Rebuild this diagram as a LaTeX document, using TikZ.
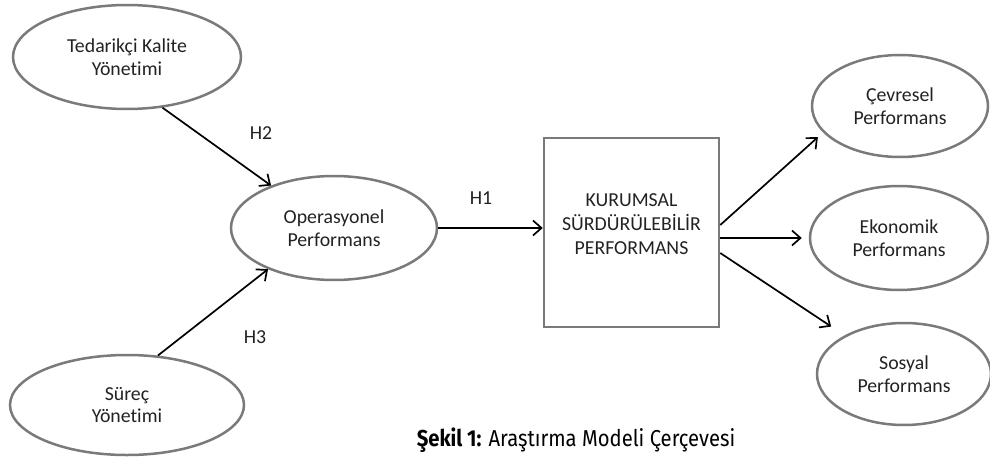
\documentclass[tikz,border=0pt]{standalone}
\usepackage{fontspec}
\setmainfont{Carlito}[Ligatures=NoCommon]
\newfontfamily\capfont{Fira Sans}[FakeStretch=0.88]
\usetikzlibrary{shapes.geometric,arrows.meta}
\definecolor{ellgray}{HTML}{7A7A7A}
\definecolor{txt}{HTML}{222222}
\begin{document}
\begin{tikzpicture}[x=1pt,y=-1pt,
  latent/.style={ellipse,draw=ellgray,line width=2.5pt,inner sep=0pt,
    align=center,text=txt,font=\fontsize{19.8}{22.5}\selectfont},
  construct/.style={rectangle,draw=ellgray,line width=2.5pt,inner sep=0pt},
  boxtext/.style={align=center,text=txt,font=\fontsize{19.8}{24}\selectfont},
  hyp/.style={text=txt,font=\fontsize{19.8}{22}\selectfont},
  arr/.style={-{Straight Barb[length=8.5pt,width=15pt,line width=1.7pt]},line width=1.7pt,black}]
\useasboundingbox (0,0) rectangle (990,460);

% latent constructs
\node[latent,minimum width=228pt,minimum height=104pt] (tk) at (127,57) {Tedarikçi Kalite\\Yönetimi};
\node[latent,minimum width=206pt,minimum height=104pt] (op) at (334,228) {Operasyonel\\Performans};
\node[latent,minimum width=234pt,minimum height=100pt] (sy) at (127,405) {Süreç\\Yönetimi};
\node[latent,minimum width=176pt,minimum height=102pt] (cp) at (900,106) {Çevresel\\Performans};
\node[latent,minimum width=178pt,minimum height=104pt] (ep) at (899,238) {Ekonomik\\Performans};
\node[latent,minimum width=174pt,minimum height=102pt] (sp) at (904,374) {Sosyal\\Performans};

% central construct
\node[construct,minimum width=175pt,minimum height=189pt] (ks) at (631.5,232.5) {};
\node[boxtext] (kst) at (631.5,224) {KURUMSAL\\SÜRDÜRÜLEBİLİR\\PERFORMANS};

% outgoing path origins on the right side of the central box
\coordinate (ksa) at ([yshift=7.5pt]ks.east);
\coordinate (ksb) at ([yshift=-5.5pt]ks.east);
\coordinate (ksc) at ([yshift=-20.5pt]ks.east);

% hypothesised paths
\draw[arr] (tk.-55) -- (op.146);
\draw[arr] (sy.58.5) -- (op.212.5);
\draw[arr] (op.east) -- (op.east -| ks.west);
\draw[arr,shorten >=7pt] (ksa) -- (cp.199.5);
\draw[arr,shorten >=7pt] (ksb) -- (ksb -| ep.west);
\draw[arr,shorten >=16pt] (ksc) -- (sp.147);

% path labels
\node[hyp] (h2) at (261,133) {H2};
\node[hyp] (h1) at (481,198) {H1};
\node[hyp] (h3) at (255,337) {H3};

% caption
\node[font=\capfont\fontsize{23}{26}\selectfont] (cap) at (576,440) {\textbf{Şekil 1:} Araştırma Modeli Çerçevesi};
\end{tikzpicture}
\end{document}
